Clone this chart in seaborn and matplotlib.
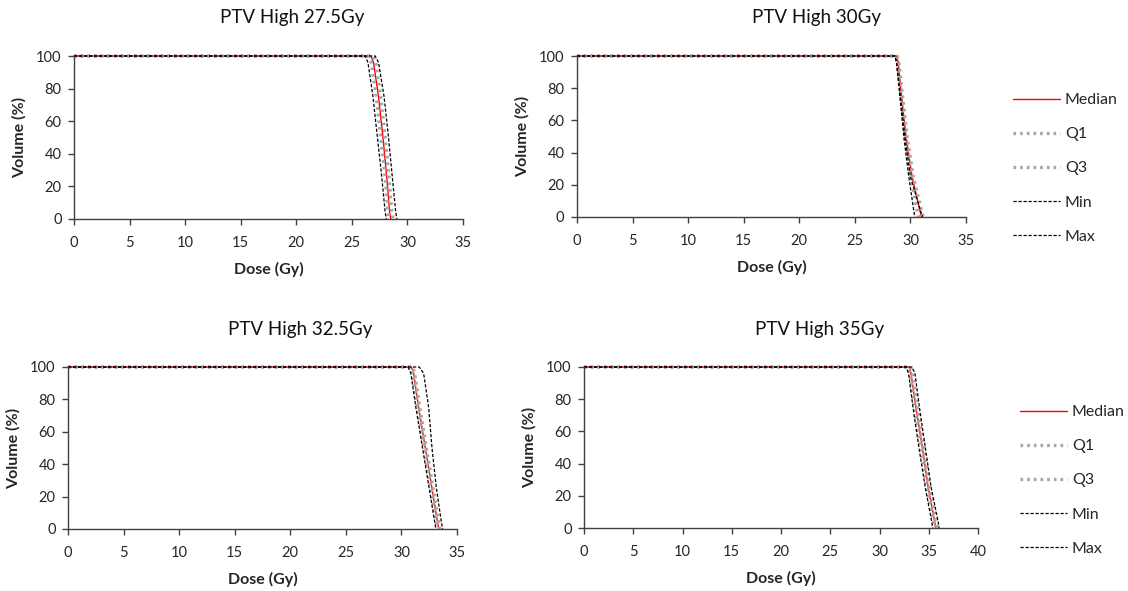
import numpy as np
import pandas as pd
import matplotlib
matplotlib.use("Agg")
import matplotlib.pyplot as plt
from matplotlib.lines import Line2D
import seaborn as sns

# Dose-volume histogram data (dose in Gy at fixed volume levels)
VOLUMES = [100, 100, 96, 75, 50, 25, 4, 0]
STATS = ["Median", "Q1", "Q3", "Min", "Max"]

titles = ["PTV High 27.5Gy", "PTV High 30Gy", "PTV High 32.5Gy", "PTV High 35Gy"]
x_limits = [35, 35, 35, 40]

dose_27_5 = {
    "Median": [0, 26.7, 26.95, 27.4, 27.8, 28.15, 28.4, 28.5],
    "Q1": [0, 26.5, 26.75, 27.2, 27.6, 28.0, 28.25, 28.35],
    "Q3": [0, 26.9, 27.15, 27.6, 28.0, 28.35, 28.6, 28.7],
    "Min": [0, 26.2, 26.45, 26.9, 27.3, 27.7, 28.0, 28.1],
    "Max": [0, 27.1, 27.4, 27.9, 28.3, 28.65, 28.95, 29.05],
}
dose_30 = {
    "Median": [0, 28.75, 28.9, 29.2, 29.6, 30.15, 30.85, 31.0],
    "Q1": [0, 28.7, 28.85, 29.15, 29.55, 30.05, 30.6, 30.75],
    "Q3": [0, 28.8, 28.95, 29.3, 29.7, 30.25, 31.0, 31.15],
    "Min": [0, 28.6, 28.75, 29.05, 29.4, 29.85, 30.3, 30.4],
    "Max": [0, 28.6, 28.75, 29.1, 29.5, 30.0, 30.9, 31.1],
}
dose_32_5 = {
    "Median": [0, 30.9, 31.1, 31.55, 32.15, 32.75, 33.25, 33.35],
    "Q1": [0, 30.8, 31.0, 31.45, 32.05, 32.65, 33.15, 33.25],
    "Q3": [0, 31.0, 31.2, 31.65, 32.25, 32.85, 33.35, 33.45],
    "Min": [0, 30.6, 30.85, 31.3, 31.9, 32.5, 33.0, 33.1],
    "Max": [0, 31.6, 32.0, 32.45, 32.75, 33.15, 33.6, 33.7],
}
dose_35 = {
    "Median": [0, 33.0, 33.2, 33.7, 34.35, 34.95, 35.6, 35.7],
    "Q1": [0, 32.85, 33.1, 33.55, 34.2, 34.8, 35.5, 35.6],
    "Q3": [0, 33.15, 33.35, 33.85, 34.5, 35.1, 35.75, 35.85],
    "Min": [0, 32.7, 32.95, 33.4, 34.0, 34.65, 35.3, 35.4],
    "Max": [0, 33.3, 33.6, 34.05, 34.65, 35.25, 35.95, 36.05],
}
panel_doses = [dose_27_5, dose_30, dose_32_5, dose_35]

# Line styles per statistic
line_styles = {
    "Median": dict(color="#ff0000", linestyle="-", linewidth=1.0),
    "Q1": dict(color="#a6a6a6", linestyle=(0, (0.8, 1.2)), linewidth=2.4),
    "Q3": dict(color="#a6a6a6", linestyle=(0, (0.8, 1.2)), linewidth=2.4),
    "Min": dict(color="#000000", linestyle=(0, (2.6, 1.4)), linewidth=0.9),
    "Max": dict(color="#000000", linestyle=(0, (2.6, 1.4)), linewidth=0.9),
}

sns.set_style("ticks")
plt.rcParams["font.family"] = ["Lato", "DejaVu Sans"]

W, H = 1128, 591
fig = plt.figure(figsize=(W / 100, H / 100), dpi=100)

# axes boxes in pixels: left, right, top, bottom
boxes = [(74, 463, 56, 219), (577, 966, 56, 217), (68, 457, 367, 529), (584, 978, 367, 528)]
title_pos = [(292, 18), (816, 18), (300, 330), (820, 330)]

for i, (l, r, t, b) in enumerate(boxes):
    ax = fig.add_axes([l / W, 1 - b / H, (r - l) / W, (b - t) / H])
    doses = panel_doses[i]
    for stat in STATS:
        df = pd.DataFrame({"Dose": doses[stat], "Volume": VOLUMES})
        st = line_styles[stat]
        sns.lineplot(data=df, x="Dose", y="Volume", ax=ax, sort=False, estimator=None,
                     color=st["color"], linewidth=st["linewidth"], clip_on=False)
        ax.lines[-1].set_linestyle(st["linestyle"])
    ax.set_xlim(0, x_limits[i])
    ax.set_ylim(0, 100)
    ax.set_xticks(np.arange(0, x_limits[i] + 1, 5))
    ax.set_yticks(np.arange(0, 101, 20))
    for s in ["top", "right"]:
        ax.spines[s].set_visible(False)
    for s in ["left", "bottom"]:
        ax.spines[s].set_color("#404040")
        ax.spines[s].set_linewidth(1.0)
    ax.tick_params(axis="both", direction="out", length=4, width=1.0, color="#404040",
                   labelsize=10.5, labelcolor="#262626", pad=5)
    ax.tick_params(axis="x", pad=8)
    ax.set_xlabel("Dose (Gy)", fontsize=11.5, fontweight="bold", labelpad=9)
    ax.set_ylabel("Volume (%)", fontsize=11.5, fontweight="bold", labelpad=7)
    fig.text(title_pos[i][0] / W, 1 - title_pos[i][1] / H, titles[i], fontsize=13.5,
             ha="center", va="center", color="#111111")

handles = [Line2D([0], [0], **line_styles[s]) for s in STATS]
for (hx, hy) in [(1013, 93), (1020, 405)]:
    fig.legend(handles, STATS, loc="upper left", bbox_to_anchor=(hx / W, 1 - hy / H),
               bbox_transform=fig.transFigure, frameon=False, fontsize=11.5,
               handlelength=2.95, handletextpad=0.3, labelspacing=1.25,
               borderpad=0, borderaxespad=0)

fig.savefig("out.png", dpi=100)
